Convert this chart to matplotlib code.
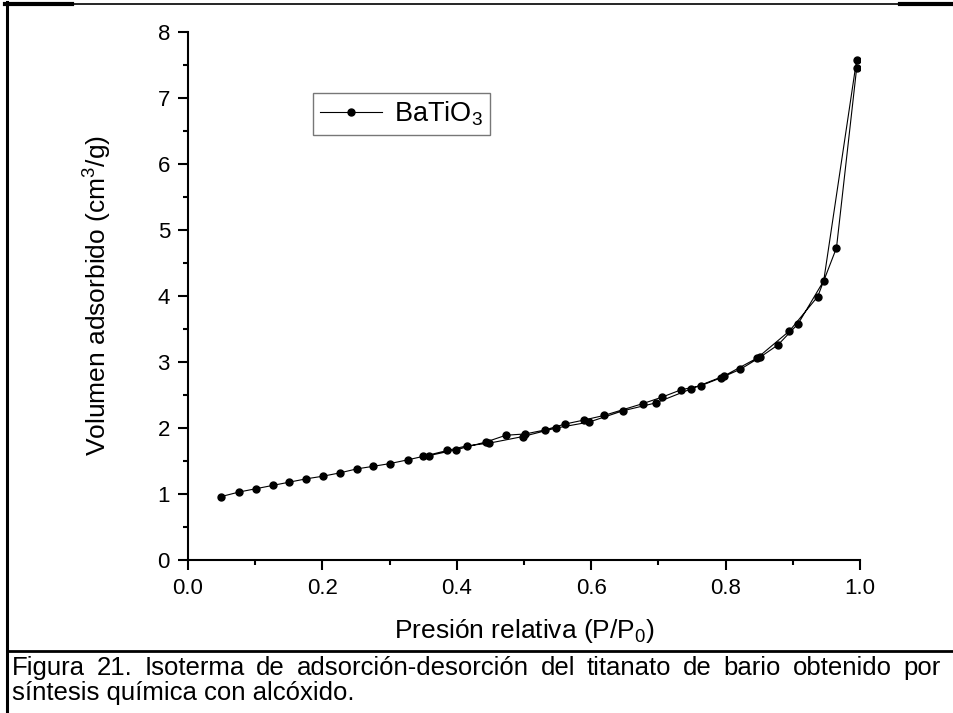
import matplotlib
matplotlib.use("Agg")
import matplotlib.pyplot as plt
from matplotlib.lines import Line2D
from matplotlib.ticker import MultipleLocator, FormatStrFormatter

plt.rcParams['font.family'] = ['Liberation Sans', 'DejaVu Sans']
plt.rcParams['mathtext.fontset'] = 'custom'
plt.rcParams['mathtext.rm'] = 'Liberation Sans'
plt.rcParams['mathtext.it'] = 'Liberation Sans'

# adsorption branch (P/P0, cm3/g)
p_ads = [0.049, 0.076, 0.101, 0.126, 0.151, 0.176, 0.201, 0.226, 0.251, 0.276,
         0.300, 0.328, 0.350, 0.386, 0.415, 0.448, 0.498, 0.548, 0.597, 0.647,
         0.696, 0.748, 0.798, 0.847, 0.895, 0.937, 0.965, 0.995]
v_ads = [0.96, 1.03, 1.08, 1.13, 1.18, 1.23, 1.27, 1.32, 1.38, 1.42,
         1.46, 1.52, 1.57, 1.66, 1.73, 1.77, 1.87, 2.00, 2.09, 2.26,
         2.38, 2.59, 2.79, 3.06, 3.47, 3.99, 4.73, 7.45]

# desorption branch
p_des = [0.995, 0.946, 0.908, 0.878, 0.851, 0.822, 0.793, 0.763, 0.734, 0.706,
         0.677, 0.619, 0.589, 0.561, 0.531, 0.502, 0.473, 0.444, 0.399, 0.358]
v_des = [7.58, 4.23, 3.58, 3.26, 3.07, 2.89, 2.76, 2.64, 2.58, 2.47,
         2.37, 2.19, 2.12, 2.06, 1.97, 1.91, 1.89, 1.79, 1.67, 1.58]

caption = ['Figura 21. Isoterma de adsorción-desorción del titanato de bario obtenido por',
           'síntesis química con alcóxido.']

W, H = 954, 713
fig = plt.figure(figsize=(W / 100, H / 100), dpi=100)
ax = fig.add_axes([188 / W, 1 - 560 / H, (860 - 188) / W, (560 - 32) / H])

p_all = p_ads + p_des
v_all = v_ads + v_des
ax.plot(p_all, v_all, color='black', lw=0.8, marker='o', ms=5,
        label='BaTiO$_3$')

ax.set_xlim(0, 1.0)
ax.set_ylim(0, 8)
ax.xaxis.set_major_locator(MultipleLocator(0.2))
ax.xaxis.set_minor_locator(MultipleLocator(0.1))
ax.xaxis.set_major_formatter(FormatStrFormatter('%.1f'))
ax.yaxis.set_major_locator(MultipleLocator(1))
ax.yaxis.set_minor_locator(MultipleLocator(0.5))

for s in ['top', 'right']:
    ax.spines[s].set_visible(False)
for s in ['left', 'bottom']:
    ax.spines[s].set_linewidth(1.5)
ax.tick_params(which='major', direction='out', length=7, width=1.5,
               labelsize=16, pad=6)
ax.tick_params(which='minor', direction='out', length=3.5, width=1.5)

ax.set_xlabel('Presión relativa (P/P$_0$)', fontsize=19)
ax.set_ylabel('Volumen adsorbido (cm$^3$/g)', fontsize=19)
ax.xaxis.set_label_coords(0.5, -0.108)
ax.yaxis.set_label_coords(-0.11, 0.5)

leg = ax.legend(loc='upper left', bbox_to_anchor=(313 / W, 1 - 93 / H),
                bbox_transform=fig.transFigure, fontsize=19.5, fancybox=False,
                handlelength=2.3, borderpad=0.25, handletextpad=0.45,
                borderaxespad=0)
leg.get_frame().set_edgecolor('#555555')
leg.get_frame().set_linewidth(1.0)

# table borders around the figure and its caption
def hline(x0, x1, y, lw):
    fig.add_artist(Line2D([x0 / W, x1 / W], [1 - y / H, 1 - y / H],
                          color='black', lw=lw, transform=fig.transFigure))

hline(5, 72, 3.5, 3)
hline(72, 900, 3.5, 1.2)
hline(900, 954, 3.5, 3)
hline(7, 954, 651, 2)
fig.add_artist(Line2D([7 / W, 7 / W], [1 - 2 / H, 0], color='black', lw=2.2,
                      transform=fig.transFigure))

# caption: first line justified between the margins, last line left aligned
cap_size = 18.5
renderer = fig.canvas.get_renderer()
x_left, x_right = 12, 941
words = caption[0].split(' ')
texts = [fig.text(0, 1 - 675 / H, w, fontsize=cap_size, va='baseline',
                  ha='left') for w in words]
widths = [t.get_window_extent(renderer).width for t in texts]
gap = (x_right - x_left - sum(widths)) / (len(words) - 1)
x = x_left
for t, w in zip(texts, widths):
    t.set_x(x / W)
    x += w + gap
fig.text(x_left / W, 1 - 700 / H, caption[1], fontsize=cap_size,
         va='baseline', ha='left')

fig.savefig('out.png', dpi=100)
